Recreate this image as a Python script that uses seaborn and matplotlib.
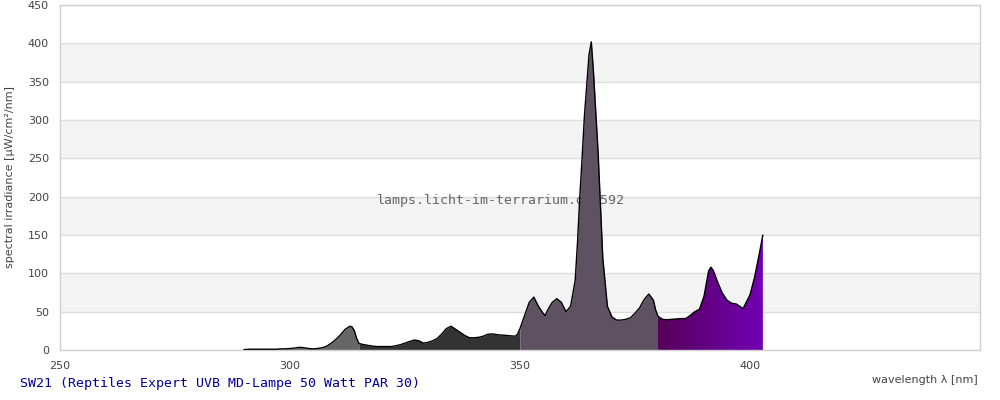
import numpy as np
import matplotlib
matplotlib.use("Agg")
import matplotlib.pyplot as plt
import seaborn as sns
from matplotlib.colors import LinearSegmentedColormap
from matplotlib.patches import Polygon

# spectrum (wavelength nm, irradiance uW/cm2/nm)
wavelength = [290, 291, 292, 293, 294, 295, 296, 297, 298, 299, 300, 301, 302, 303, 304, 305,
              306, 307, 308, 309, 310, 311, 312, 313, 313.5, 314, 314.5, 315, 316, 317, 318,
              319, 320, 321, 322, 323, 324, 325, 326, 327, 328, 329, 330, 331, 332, 333, 334,
              335, 336, 337, 338, 339, 340, 341, 342, 343, 344, 345, 346, 347, 348, 349,
              349.5, 350, 351, 352, 353, 354, 355, 355.5, 356, 357, 358, 359, 360, 361, 362,
              362.5, 363, 363.5, 364, 365, 365.5, 366, 367, 368, 369, 370, 371, 372, 373,
              374, 375, 376, 377, 378, 379, 379.5, 380, 381, 382, 383, 384, 385, 386, 387,
              388, 389, 390, 391, 391.5, 392, 393, 394, 395, 396, 397, 398, 398.5, 399, 400,
              401, 402, 402.8]
irradiance = [0.5, 1, 1, 1, 1, 1, 1, 1, 1.5, 1.5, 2, 2.5, 3.5, 3, 2, 1.5,
              2, 3, 5, 9, 14, 20, 27, 31, 30, 25, 15, 8.5, 7, 6, 5,
              4.5, 4.5, 4.5, 4.5, 5.5, 7, 9, 11, 13, 12, 9, 10, 12, 15, 21, 28,
              31, 27, 23, 19, 16, 16, 16.5, 18, 20.5, 21, 20, 19.5, 19, 18.5, 18,
              21, 28, 45, 62, 69, 57, 48, 45, 52, 62, 67, 62, 50, 57, 91,
              140, 200, 250, 305, 385, 402, 360, 255, 120, 57, 43, 39, 39, 40,
              42, 48, 55, 66, 73, 65, 52, 44, 40, 39.5, 40, 40.5, 41, 41, 45,
              50, 53, 70, 103, 108, 104, 88, 74, 65, 61, 60, 56, 54, 60, 72,
              95, 125, 150]

bands = [(280, 315, "#666666"), (315, 350, "#333333"), (350, 380, "#5e5262")]
visible_start = 380
grad_colors = ["#560058", "#7200b4"]

title = "SW21 (Reptiles Expert UVB MD-Lampe 50 Watt PAR 30)"
watermark = "lamps.licht-im-terrarium.de/592"

wl = np.array(wavelength)
ir = np.array(irradiance)

sns.set_style("white")
fig = plt.figure(figsize=(10, 4), dpi=100)
ax = fig.add_axes([0.06, 0.125, 0.92, 0.8625])

# striped background + grid
for lo in range(50, 450, 100):
    ax.axhspan(lo, lo + 50, color="#f3f3f3", zorder=0, lw=0)
for y in range(50, 451, 50):
    ax.axhline(y, color="#dddddd", lw=1, zorder=0.5)

ax.text(345.9, 195.6, watermark, family="DejaVu Sans Mono", fontsize=9.5,
        color="#666666", ha="center", va="center", zorder=1)

# coloured areas under the curve
for lo, hi, c in bands:
    m = (wl >= lo) & (wl <= hi)
    ax.fill_between(wl[m], 0, ir[m], color=c, lw=0, zorder=2)

m = wl >= visible_start
xs, ys = wl[m], ir[m]
verts = [(xs[0], 0)] + list(zip(xs, ys)) + [(xs[-1], 0)]
clip = Polygon(verts, closed=True, facecolor="none", edgecolor="none")
ax.add_patch(clip)
cmap = LinearSegmentedColormap.from_list("vis", grad_colors)
im = ax.imshow(np.linspace(0, 1, 256).reshape(1, -1), cmap=cmap, aspect="auto",
               extent=[xs[0], xs[-1], 0, ys.max()], zorder=2, interpolation="bilinear")
im.set_clip_path(clip)

sns.lineplot(x=wl, y=ir, color="black", lw=1, ax=ax, zorder=3)

ax.set_xlim(250, 450)
ax.set_ylim(0, 450)
ax.set_xticks([250, 300, 350, 400])
ax.set_yticks(range(0, 451, 50))
ax.tick_params(length=0, labelsize=8, labelcolor="#444444", pad=8)
for s in ax.spines.values():
    s.set_color("#d0d0d0")
    s.set_linewidth(1)

ax.set_xlabel("")
ax.set_ylabel("spectral irradiance [µW/cm²/nm]", fontsize=8, color="#444444", labelpad=9)
fig.text(0.978, 0.05, "wavelength λ [nm]", fontsize=8, color="#444444", ha="right", va="center")
fig.text(0.02, 0.04, title, family="DejaVu Sans Mono", fontsize=9.5, color="#000099",
         ha="left", va="center")

fig.savefig("out.png", dpi=100)
